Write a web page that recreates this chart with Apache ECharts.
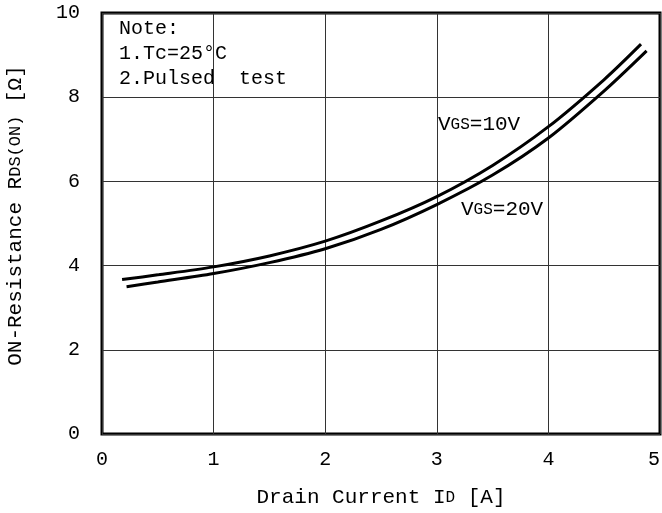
<!DOCTYPE html>
<html><head><meta charset="utf-8">
<script src="https://cdn.jsdelivr.net/npm/echarts@6/dist/echarts.min.js"></script>
<style>html,body{margin:0;padding:0;background:#fff}#c{width:662px;height:513px}</style>
</head><body><div id="c"></div>
<script>
const xTicks = [0, 1, 2, 3, 4, 5];
const yTicks = [0, 2, 4, 6, 8, 10];
const idVgs10 = [0.18, 0.5, 1.0, 1.5, 2.0, 2.5, 3.0, 3.5, 4.0, 4.5, 4.83];
const rVgs10  = [3.67, 3.78, 3.97, 4.23, 4.58, 5.06, 5.64, 6.38, 7.30, 8.42, 9.26];
const idVgs20 = [0.22, 0.5, 1.0, 1.5, 2.0, 2.5, 3.0, 3.5, 4.0, 4.5, 4.88];
const rVgs20  = [3.50, 3.61, 3.81, 4.07, 4.40, 4.86, 5.45, 6.15, 7.03, 8.15, 9.10];
const noteLines = ['Note:', '1.Tc=25°C', '2.Pulsed  test'];

const font = 'Liberation Mono';
const chart = echarts.init(document.getElementById('c'), null, {renderer: 'canvas'});
const pair = (xs, ys) => xs.map((x, i) => [x, ys[i]]);
chart.setOption({
  animation: false,
  backgroundColor: '#fff',
  grid: {left: 102, right: 2, top: 13, bottom: 79, outerBoundsMode: 'none', containLabel: false,
         show: true, borderColor: '#000', borderWidth: 3, backgroundColor: 'transparent'},
  xAxis: {
    type: 'value', min: 0, max: 5, interval: 1,
    axisLine: {show: false}, axisTick: {show: false},
    splitLine: {show: true, lineStyle: {color: '#333', width: 1}},
    axisLabel: {color: '#000', fontFamily: font, fontSize: 20, margin: 16, alignMaxLabel: 'right'},
    name: 'Drain Current I{s|D} [A]', nameLocation: 'middle', nameGap: 53,
    nameTextStyle: {color: '#000', fontFamily: font, fontSize: 21, rich: {s: {fontFamily: font, fontSize: 16, color: '#000'}}}
  },
  yAxis: {
    type: 'value', min: 0, max: 10, interval: 2,
    axisLine: {show: false}, axisTick: {show: false},
    splitLine: {show: true, lineStyle: {color: '#333', width: 1}},
    axisLabel: {color: '#000', fontFamily: font, fontSize: 20, margin: 22},
    name: 'ON-Resistance R{s|DS(ON)} [Ω]', nameLocation: 'middle', nameGap: 76,
    nameTextStyle: {color: '#000', fontFamily: font, fontSize: 21, padding: [0, 0, 0, 16],
                    rich: {s: {fontFamily: font, fontSize: 17, color: '#000'}}}
  },
  series: [
    {name: 'VGS=10V', type: 'line', data: pair(idVgs10, rVgs10), smooth: 0.3, showSymbol: false,
     lineStyle: {color: '#000', width: 3}},
    {name: 'VGS=20V', type: 'line', data: pair(idVgs20, rVgs20), smooth: 0.3, showSymbol: false,
     lineStyle: {color: '#000', width: 3}}
  ],
  graphic: [
    {type: 'text', left: 119, top: 16, style: {text: noteLines.join('\n'), font: '20px "Liberation Mono"', lineHeight: 25, fill: '#000'}},
    {type: 'text', left: 438, top: 114, style: {text: 'V{s|GS}=10V', font: '21px "Liberation Mono"', fill: '#000', rich: {s: {font: '16px "Liberation Mono"', fill: '#000'}}}},
    {type: 'text', left: 461, top: 199, style: {text: 'V{s|GS}=20V', font: '21px "Liberation Mono"', fill: '#000', rich: {s: {font: '16px "Liberation Mono"', fill: '#000'}}}}
  ]
});
</script></body></html>
